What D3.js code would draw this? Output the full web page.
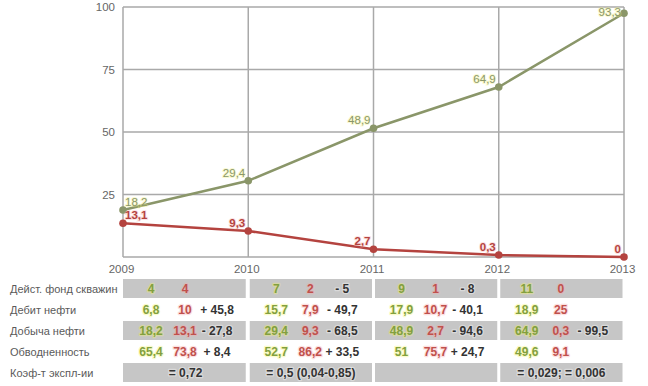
<!DOCTYPE html>
<html><head><meta charset="utf-8">
<script src="https://cdn.jsdelivr.net/npm/d3@7"></script>
<style>
body{margin:0;background:#fff;}
svg{display:block;font-family:"Liberation Sans",Arial,sans-serif;}
</style></head>
<body><svg id="c" width="648" height="386"></svg>
<script>
// ---- data ----
const years = [2009, 2010, 2011, 2012, 2013];
const yTicks = [25, 50, 75, 100];
const greenValues = [18.8, 30.5, 51.5, 68, 97.5];
const greenLabels = ["18,2", "29,4", "48,9", "64,9", "93,3"];
const redValues = [13.5, 10.4, 3.1, 0.8, 0];
const redLabels = ["13,1", "9,3", "2,7", "0,3", "0"];

const rowNames = ["Дейст. фонд скважин", "Дебит нефти", "Добыча нефти", "Обводненность", "Коэф-т экспл-ии"];
const tableGreen = [["4","7","9","11"],["6,8","15,7","17,9","18,9"],["18,2","29,4","48,9","64,9"],["65,4","52,7","51","49,6"]];
const tableRed = [["4","2","1","0"],["10","7,9","10,7","25"],["13,1","9,3","2,7","0,3"],["73,8","86,2","75,7","9,1"]];
const tableDiff = [["","- 5","- 8",""],["+ 45,8","- 49,7","- 40,1",""],["- 27,8","- 68,5","- 94,6","- 99,5"],["+ 8,4","+ 33,5","+ 24,7",""]];
const coefRow = ["= 0,72", "= 0,5 (0,04-0,85)", "", "= 0,029; = 0,006"];

// ---- layout ----
const svg = d3.select("#c");
const x = d3.scaleLinear().domain([2009, 2013]).range([123, 624]);
const y = d3.scaleLinear().domain([0, 100]).range([257, 7]);
const gridColor = "#a9a9a9";
const cGreen = "#8a9669", cRed = "#b4433f";

// horizontal grid
svg.append("g").selectAll("line").data([0].concat(yTicks)).join("line")
  .attr("x1", x(2009)).attr("x2", x(2013))
  .attr("y1", d => y(d)).attr("y2", d => y(d))
  .attr("stroke", gridColor).attr("stroke-width", 1.5);
// vertical grid
svg.append("g").selectAll("line").data(years).join("line")
  .attr("x1", d => x(d)).attr("x2", d => x(d))
  .attr("y1", y(0)).attr("y2", y(100))
  .attr("stroke", gridColor).attr("stroke-width", 1.5);

// y axis labels
const ya = svg.append("g").attr("transform", `translate(${x(2009)},0)`)
  .call(d3.axisLeft(y).tickValues(yTicks).tickSize(0).tickPadding(8));
ya.select(".domain").remove();
ya.selectAll("text").attr("font-size", 11.5).attr("fill", "#666").attr("font-family", "Liberation Sans, Arial, sans-serif");

// x axis labels
const xa = svg.append("g").attr("transform", `translate(-2,${y(0)})`)
  .call(d3.axisBottom(x).tickValues(years).tickFormat(d3.format("d")).tickSize(0).tickPadding(8));
xa.select(".domain").remove();
xa.selectAll("text").attr("font-size", 11.5).attr("fill", "#666").attr("font-family", "Liberation Sans, Arial, sans-serif");

// lines
function drawSeries(vals, labels, color, bold, halo) {
  const line = d3.line().x((d, i) => x(years[i])).y(d => y(d));
  svg.append("path").datum(vals).attr("d", line)
    .attr("fill", "none").attr("stroke", color).attr("stroke-width", 2.5);
  svg.append("g").selectAll("circle").data(vals).join("circle")
    .attr("cx", (d, i) => x(years[i])).attr("cy", d => y(d)).attr("r", 3.8).attr("fill", color);
  svg.append("g").selectAll("text").data(vals).join("text")
    .attr("x", (d, i) => i === 0 ? x(years[i]) + 2 : x(years[i]) - 3)
    .attr("y", d => Math.max(y(d) - 4, 16))
    .attr("text-anchor", (d, i) => i === 0 ? "start" : "end")
    .attr("font-size", 11.5).attr("font-weight", bold ? "bold" : "normal")
    .attr("fill", color).attr("stroke", halo).attr("stroke-width", 2)
    .attr("stroke-opacity", 0.35).attr("paint-order", "stroke")
    .text((d, i) => labels[i]);
}
drawSeries(greenValues, greenLabels, cGreen, false, "#f0f07a");
drawSeries(redValues, redLabels, cRed, true, "#f7b0b0");

// ---- table ----
const rowTop = [279, 300, 321, 342, 363];
const rowH = 19;
const cols = years.slice(0, 4);
const cellBg = "#c6c6c6";

rowNames.forEach((name, r) => {
  svg.append("text").attr("x", 10).attr("y", rowTop[r] + 14)
    .attr("font-size", 11).attr("fill", "#5a5a5a").text(name);
  if (r % 2 === 0) {
    svg.append("g").selectAll("rect").data(cols).join("rect")
      .attr("x", d => x(d) + (d === 2009 ? 0 : 1.5))
      .attr("width", d => x(d + 1) - x(d) - (d === 2009 ? 2.5 : 3))
      .attr("y", rowTop[r]).attr("height", rowH).attr("fill", cellBg);
  }
});

function cellText(tx, ty, str, fill, halo, anchor) {
  svg.append("text").attr("x", tx).attr("y", ty)
    .attr("text-anchor", anchor).attr("font-size", 12).attr("font-weight", "bold")
    .attr("fill", fill).attr("stroke", halo).attr("stroke-width", 2.5)
    .attr("stroke-opacity", 0.35).attr("stroke-linejoin", "round")
    .attr("paint-order", "stroke").text(str);
}

for (let r = 0; r < 4; r++) {
  cols.forEach((yr, c) => {
    const left = x(yr);
    const ty = rowTop[r] + 14;
    cellText(left + 28, ty, tableGreen[r][c], "#82a03e", "#f4f46a", "middle");
    cellText(left + 62, ty, tableRed[r][c], "#c0504c", "#f7a7a7", "middle");
    if (tableDiff[r][c]) cellText(left + 94, ty, tableDiff[r][c], "#333", "#ffffff", "middle");
  });
}
cols.forEach((yr, c) => {
  if (coefRow[c]) cellText((x(yr) + x(yr + 1)) / 2, rowTop[4] + 14, coefRow[c], "#333", "#ffffff", "middle");
});
</script></body></html>
